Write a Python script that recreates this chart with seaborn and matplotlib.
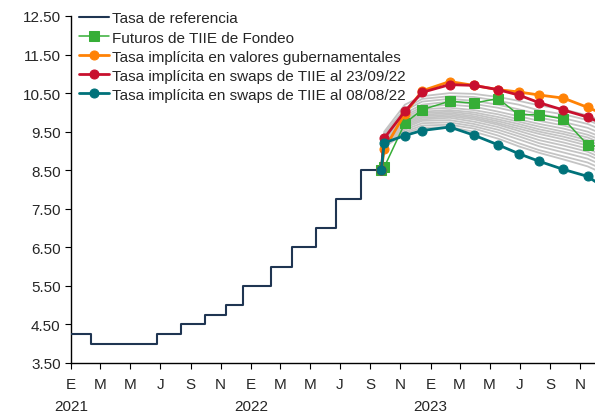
import pandas as pd
import matplotlib.pyplot as plt
import seaborn as sns

################################################
# 1. Data
################################################

# Tasa de referencia (step line)
ref_dates = ["2021-01-01", "2021-02-11", "2021-06-25", "2021-08-13", "2021-10-01",
             "2021-11-12", "2021-12-17", "2022-02-11", "2022-03-25", "2022-05-13",
             "2022-06-24", "2022-08-12", "2022-09-23"]
ref_rate = [4.25, 4.00, 4.25, 4.50, 4.75, 5.00, 5.50, 6.00, 6.50, 7.00, 7.75, 8.50, 8.50]

# forward curves (start + Banxico meeting dates)
fwd_dates = ["2022-09-23", "2022-09-29", "2022-11-10", "2022-12-15", "2023-02-09",
             "2023-03-30", "2023-05-18", "2023-06-29", "2023-08-10", "2023-09-28",
             "2023-11-16", "2023-12-14"]

futuros = [8.50, 8.58, 9.72, 10.07, 10.29, 10.24, 10.36, 9.94, 9.94, 9.83, 9.16, 9.10]
valores_gub = [8.50, 9.04, 9.97, 10.56, 10.80, 10.70, 10.59, 10.53, 10.45, 10.37, 10.13, 9.98]
swaps_2309 = [8.50, 9.33, 10.03, 10.52, 10.72, 10.70, 10.59, 10.45, 10.25, 10.06, 9.88, 9.72]
swaps_0808 = [8.50, 9.21, 9.40, 9.53, 9.62, 9.41, 9.16, 8.93, 8.73, 8.52, 8.34, 8.10]

# historical swap curves (gray)
gray_curves = [
    [8.50, 9.50, 10.20, 10.42, 10.50, 10.48, 10.40, 10.30, 10.18, 10.08, 9.92, 9.78],
    [8.50, 9.45, 10.10, 10.35, 10.42, 10.40, 10.30, 10.20, 10.05, 9.95, 9.80, 9.65],
    [8.50, 9.42, 10.05, 10.28, 10.35, 10.30, 10.20, 10.08, 9.95, 9.85, 9.70, 9.55],
    [8.50, 9.40, 9.98, 10.20, 10.28, 10.22, 10.12, 10.00, 9.86, 9.75, 9.60, 9.45],
    [8.50, 9.38, 9.92, 10.14, 10.20, 10.15, 10.02, 9.90, 9.78, 9.66, 9.50, 9.36],
    [8.50, 9.35, 9.88, 10.08, 10.12, 10.06, 9.95, 9.82, 9.70, 9.58, 9.42, 9.28],
    [8.50, 9.33, 9.84, 10.02, 10.06, 10.00, 9.88, 9.76, 9.63, 9.50, 9.35, 9.20],
    [8.50, 9.30, 9.80, 9.98, 10.02, 9.95, 9.82, 9.70, 9.56, 9.44, 9.28, 9.12],
    [8.50, 9.28, 9.76, 9.94, 9.98, 9.90, 9.77, 9.64, 9.50, 9.37, 9.21, 9.05],
    [8.50, 9.25, 9.72, 9.90, 9.94, 9.86, 9.72, 9.58, 9.44, 9.30, 9.14, 8.98],
    [8.50, 9.22, 9.68, 9.86, 9.90, 9.82, 9.68, 9.52, 9.36, 9.22, 9.06, 8.90],
    [8.50, 9.20, 9.64, 9.82, 9.86, 9.76, 9.62, 9.45, 9.28, 9.14, 8.98, 8.82],
    [8.50, 9.18, 9.60, 9.78, 9.80, 9.70, 9.55, 9.38, 9.20, 9.05, 8.90, 8.74],
    [8.50, 9.15, 9.55, 9.72, 9.74, 9.64, 9.48, 9.30, 9.12, 8.96, 8.80, 8.64],
    [8.50, 9.12, 9.50, 9.66, 9.68, 9.58, 9.40, 9.20, 9.02, 8.86, 8.70, 8.54],
    [8.50, 9.10, 9.46, 9.60, 9.62, 9.50, 9.32, 9.12, 8.95, 8.78, 8.60, 8.44],
]

month_letters = ["E", "M", "M", "J", "S", "N"] * 3
years = ["2021", "2022", "2023"]
y_ticks = [3.5, 4.5, 5.5, 6.5, 7.5, 8.5, 9.5, 10.5, 11.5, 12.5]

ref_dates = pd.to_datetime(ref_dates)
fwd_dates = pd.to_datetime(fwd_dates)

gray_df = pd.DataFrame({
    "fecha": list(fwd_dates) * len(gray_curves),
    "tasa": [v for c in gray_curves for v in c],
    "curva": [i for i, c in enumerate(gray_curves) for _ in c],
})

################################################
# 2. Plot
################################################

sns.set_style("ticks")
plt.rcParams["font.family"] = ["Liberation Sans", "DejaVu Sans"]
plt.rcParams["font.size"] = 11

fig = plt.figure(figsize=(5.95, 4.14), dpi=100)
ax = fig.add_axes([71 / 595, 50 / 414, 524 / 595, 347 / 414])

sns.lineplot(data=gray_df, x="fecha", y="tasa", units="curva", estimator=None,
             color="#C4C4C4", linewidth=1.3, ax=ax, legend=False, zorder=1)

sns.lineplot(x=ref_dates, y=ref_rate, drawstyle="steps-post", color="#1F3552",
             linewidth=1.5, ax=ax, label="Tasa de referencia", zorder=3)

series = [
    (futuros, "Futuros de TIIE de Fondeo", "#36AE37", "s", 1.1),
    (valores_gub, "Tasa implícita en valores gubernamentales", "#FF8205", "o", 2.0),
    (swaps_2309, "Tasa implícita en swaps de TIIE al 23/09/22", "#C8102E", "o", 2.0),
    (swaps_0808, "Tasa implícita en swaps de TIIE al 08/08/22", "#00727A", "o", 2.0),
]
for vals, name, col, mk, lw in series:
    sns.lineplot(x=fwd_dates, y=vals, color=col, marker=mk, markersize=6.5,
                 markeredgecolor=col, linewidth=lw, ax=ax, label=name, zorder=4)

ax.set_xlim(pd.Timestamp("2021-01-01"), pd.Timestamp("2023-12-01"))
ax.set_ylim(3.5, 12.5)
ax.set_yticks(y_ticks)
ax.set_yticklabels([f"{v:.2f}" for v in y_ticks])
tick_dates = pd.date_range("2021-01-01", "2023-11-01", freq="2MS")
ax.set_xticks(tick_dates)
ax.set_xticklabels(month_letters)
ax.set_xlabel("")
ax.set_ylabel("")
ax.tick_params(axis="both", length=4, width=0.8, labelsize=11, color="black")
ax.tick_params(axis="x", pad=6)
for s in ["top", "right"]:
    ax.spines[s].set_visible(False)
for s in ["left", "bottom"]:
    ax.spines[s].set_color("black")
    ax.spines[s].set_linewidth(1.0)

for i, yr in enumerate(years):
    ax.text(pd.Timestamp(f"{yr}-01-01"), -0.125, yr, transform=ax.get_xaxis_transform(),
            ha="center", va="center", fontsize=11)

ax.legend(loc="upper left", bbox_to_anchor=(0.015, 1.013), frameon=False,
          borderpad=0, borderaxespad=0, handlelength=2.0, handletextpad=0.2,
          labelspacing=0.33, fontsize=11)

plt.savefig("out.png", dpi=100)
